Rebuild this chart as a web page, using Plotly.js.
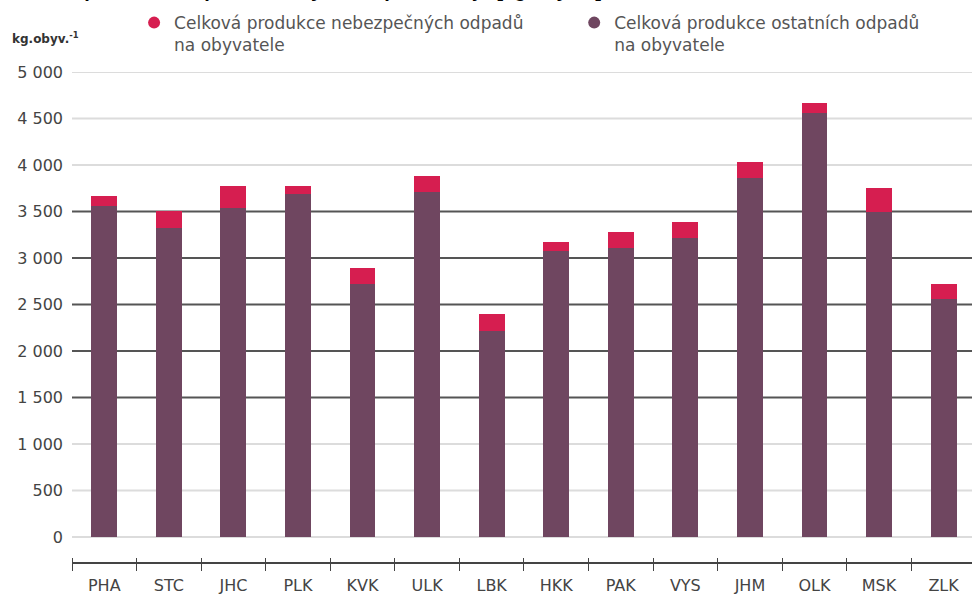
<!DOCTYPE html>
<html>
<head>
<meta charset="utf-8">
<script src="https://cdn.plot.ly/plotly-3.0.1.min.js"></script>
<style>
html,body{margin:0;padding:0;background:#fff;overflow:hidden;}
#chart{width:972px;height:595px;}
</style>
</head>
<body>
<div id="chart"></div>
<script>
const regions = ["PHA","STC","JHC","PLK","KVK","ULK","LBK","HKK","PAK","VYS","JHM","OLK","MSK","ZLK"];
const otherWaste = [3560,3320,3540,3685,2717,3706,2215,3075,3104,3211,3857,4556,3495,2556];
const hazardousWaste = [110,188,234,89,172,176,179,94,172,173,175,107,261,161];
const nameHaz = "Celková produkce nebezpečných odpadů<br>na obyvatele";
const nameOther = "Celková produkce ostatních odpadů<br>na obyvatele";
const yTicks = [0,500,1000,1500,2000,2500,3000,3500,4000,4500,5000];
const darkGrid = [1500,2000,2500,3000,3500];

const purple = "#6f4660";
const red = "#d61e50";
const FONT = "DejaVu Sans, Liberation Sans, sans-serif";

const traces = [
  {type:"bar", x:regions, y:otherWaste, name:nameOther, marker:{color:purple}, showlegend:false, hoverinfo:"y"},
  {type:"bar", x:regions, y:hazardousWaste, name:nameHaz, marker:{color:red}, showlegend:false, hoverinfo:"y"},
  {type:"scatter", mode:"markers", x:[null], y:[null], name:nameHaz, marker:{color:red, size:16, symbol:"circle"}, showlegend:true, legend:"legend"},
  {type:"scatter", mode:"markers", x:[null], y:[null], name:nameOther, marker:{color:purple, size:16, symbol:"circle"}, showlegend:true, legend:"legend2"}
];

const gridShapes = yTicks.map(v => {
  const dark = darkGrid.includes(v);
  return {type:"line", xref:"paper", x0:0, x1:1, yref:"y", y0:v, y1:v,
          line:{color: dark ? "#555" : "#dcdcdc", width:1.8}, layer:"below"};
});
// separate category axis line below the zero line
gridShapes.push({type:"line", xref:"paper", x0:0, x1:1, yref:"paper", y0:-0.0124, y1:-0.0124,
                 line:{color:"#444", width:2}, layer:"above"});

const legendCommon = {orientation:"v", xanchor:"left", yanchor:"top", font:{size:17, color:"#555", family:FONT},
                      valign:"top", itemsizing:"constant", bgcolor:"rgba(0,0,0,0)", borderwidth:0};

const layout = {
  width:972, height:595,
  margin:{l:72, r:0, t:72, b:38},
  paper_bgcolor:"#fff", plot_bgcolor:"#fff",
  barmode:"stack", bargap:0.6,
  separators:", ",
  font:{family:FONT, color:"#444", size:16},
  xaxis:{type:"category", range:[-0.5, 13.44], showline:false,
         ticks:"outside", tickson:"boundaries", ticklen:13, tickcolor:"#444", tickwidth:1,
         showgrid:false, zeroline:false, tickfont:{size:16, color:"#444"}, ticklabelstandoff:17, fixedrange:true},
  yaxis:{range:[-215, 5000], tickvals:yTicks, tickformat:",d", showgrid:false,
         zeroline:false, showline:false, ticks:"", tickfont:{size:16, color:"#444"}, ticklabelstandoff:8, fixedrange:true},
  shapes:gridShapes,
  showlegend:true,
  legend:Object.assign({x:0.069, y:1.138}, legendCommon),
  legend2:Object.assign({x:0.558, y:1.138}, legendCommon),
  annotations:[
    {xref:"paper", yref:"paper", x:-0.069, xanchor:"left", y:1.070, yanchor:"middle", showarrow:false,
     text:"<b>kg.obyv.<sup>-1</sup></b>", font:{size:12, color:"#333", family:FONT}},
    {xref:"paper", yref:"paper", x:-0.08, xanchor:"left", y:1.142, yanchor:"bottom", showarrow:false,
     text:"<b>Celková produkce odpadů na obyvatele podle krajů [kg.obyv.<sup>-1</sup>], 2020</b>", font:{size:20, color:"#000", family:"Liberation Sans, Arial, sans-serif"}}
  ]
};

Plotly.newPlot("chart", traces, layout, {displayModeBar:false, staticPlot:true});
</script>
</body>
</html>
